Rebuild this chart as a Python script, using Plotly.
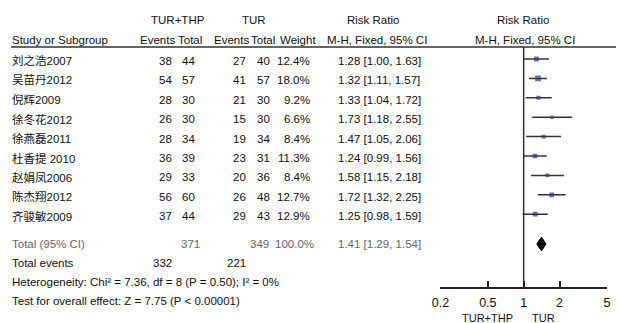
import math
import plotly.graph_objects as go

W, H = 619, 323
FONT = "Liberation Sans, Arial, Noto Sans CJK SC, sans-serif"

# ---------------- data ----------------
studies = ["刘之浩2007", "吴苗丹2012", "倪辉2009", "徐冬花2012", "徐燕磊2011",
           "杜香提 2010", "赵娟凤2006", "陈杰翔2012", "齐骏敏2009"]
thp_events = [38, 54, 28, 26, 28, 36, 29, 56, 37]
thp_total = [44, 57, 30, 30, 34, 39, 33, 60, 44]
tur_events = [27, 41, 21, 15, 19, 23, 20, 26, 29]
tur_total = [40, 57, 30, 30, 34, 31, 36, 48, 43]
weights = [12.4, 18.0, 9.2, 6.6, 8.4, 11.3, 8.4, 12.7, 12.9]
rr = [1.28, 1.32, 1.33, 1.73, 1.47, 1.24, 1.58, 1.72, 1.25]
ci_low = [1.00, 1.11, 1.04, 1.18, 1.05, 0.99, 1.15, 1.32, 0.98]
ci_high = [1.63, 1.57, 1.72, 2.55, 2.06, 1.56, 2.18, 2.25, 1.59]
total_thp = 371
total_tur = 349
total_weight = "100.0%"
events_thp = 332
events_tur = 221
pooled_rr = 1.41
pooled_low = 1.29
pooled_high = 1.54
tick_vals = [0.2, 0.5, 1, 2, 5]
tick_text = ["0.2", "0.5", "1", "2", "5"]
heterogeneity = "Heterogeneity: Chi² = 7.36, df = 8 (P = 0.50); I² = 0%"
overall = "Test for overall effect: Z = 7.75 (P < 0.00001)"

# ---------------- layout helpers ----------------
row0, row_step = 61, 19.4
rows = [row0 + i * row_step for i in range(len(studies))]
y_total, y_events, y_het, y_test = 244, 263, 282, 301
AX_TOP, AX_BOT = 47, 287
FS = 11.5

ann = []


def txt(x, y, s, anchor="left", size=FS, color="#111"):
    ann.append(dict(x=x / W, y=1 - y / H, xref="paper", yref="paper", text=s,
                    showarrow=False, xanchor=anchor, yanchor="middle",
                    borderpad=0,
                    font=dict(size=size, color=color, family=FONT)))


# headers
txt(173, 20, "TUR+THP", "center")
txt(250, 20, "TUR", "center")
txt(372, 20, "Risk Ratio", "center")
txt(524, 20, "Risk Ratio", "center")
txt(3, 40, "Study or Subgroup")
txt(171, 40, "Events", "right")
txt(199, 40, "Total", "right")
txt(246, 40, "Events", "right")
txt(273, 40, "Total", "right")
txt(315, 40, "Weight", "right")
txt(376, 40, "M-H, Fixed, 95% CI", "center")
txt(526, 40, "M-H, Fixed, 95% CI", "center")

for i, name in enumerate(studies):
    y = rows[i]
    txt(3, y, name)
    txt(168, y, str(thp_events[i]), "right")
    txt(191, y, str(thp_total[i]), "right")
    txt(243, y, str(tur_events[i]), "right")
    txt(268, y, str(tur_total[i]), "right")
    txt(308, y, f"{weights[i]:.1f}%", "right")
    txt(335, y, f"{rr[i]:.2f} [{ci_low[i]:.2f}, {ci_high[i]:.2f}]")

grey = "#666"
txt(3, y_total, "Total (95% CI)", color=grey)
txt(197, y_total, str(total_thp), "right", color=grey)
txt(267, y_total, str(total_tur), "right", color=grey)
txt(313, y_total, total_weight, "right", color=grey)
txt(335, y_total, f"{pooled_rr:.2f} [{pooled_low:.2f}, {pooled_high:.2f}]", color=grey)
txt(3, y_events, "Total events")
txt(168, y_events, str(events_thp), "right")
txt(243, y_events, str(events_tur), "right")
txt(3, y_het, heterogeneity)
txt(3, y_test, overall)
txt(488, 318, "TUR+THP", "center", size=11)
txt(545, 318, "TUR", "center", size=11)

# ---------------- traces ----------------
fig = go.Figure()
# line of no effect
fig.add_trace(go.Scatter(x=[1, 1], y=[AX_TOP, AX_BOT], mode="lines",
                         line=dict(color="#333", width=1.5), hoverinfo="skip"))
# study estimates
fig.add_trace(go.Scatter(
    x=rr, y=[r - 2 for r in rows], mode="markers",
    marker=dict(symbol="square", color="#2b3598",
                size=[1.35 * math.sqrt(w) for w in weights], line=dict(width=0)),
    error_x=dict(type="data", symmetric=False,
                 array=[h - r for h, r in zip(ci_high, rr)],
                 arrayminus=[r - l for r, l in zip(rr, ci_low)],
                 thickness=1.5, width=0, color="#333"),
))
# pooled diamond
yd = y_total
fig.add_trace(go.Scatter(
    x=[pooled_low, pooled_rr, pooled_high, pooled_rr, pooled_low],
    y=[yd, yd - 7, yd, yd + 7, yd], mode="lines", fill="toself",
    fillcolor="black", line=dict(color="black", width=1)))

fig.update_layout(
    width=W, height=H, margin=dict(l=0, r=0, t=0, b=0),
    paper_bgcolor="white", plot_bgcolor="white", showlegend=False,
    annotations=ann,
    shapes=[dict(type="line", xref="paper", yref="paper", x0=3 / W, x1=1,
                 y0=1 - 47 / H, y1=1 - 47 / H, line=dict(color="#333", width=1.5))],
    xaxis=dict(type="log", range=[math.log10(0.2) - 0.002, math.log10(5) + 0.002],
               domain=[440 / W, 610 / W], tickvals=tick_vals, ticktext=tick_text,
               ticks="inside", ticklen=6, tickwidth=1.5, tickcolor="#222",
               showline=True, linecolor="#222", linewidth=1.5,
               showgrid=False, zeroline=False, ticklabelstandoff=3,
               tickfont=dict(size=12.5, color="#111", family=FONT)),
    yaxis=dict(range=[AX_BOT, AX_TOP], domain=[(H - AX_BOT) / H, (H - AX_TOP) / H],
               visible=False, showgrid=False, zeroline=False),
)

fig.write_html("out.html", config={"displayModeBar": False},
               post_script="document.body.style.margin='0';document.body.style.overflow='hidden';")
